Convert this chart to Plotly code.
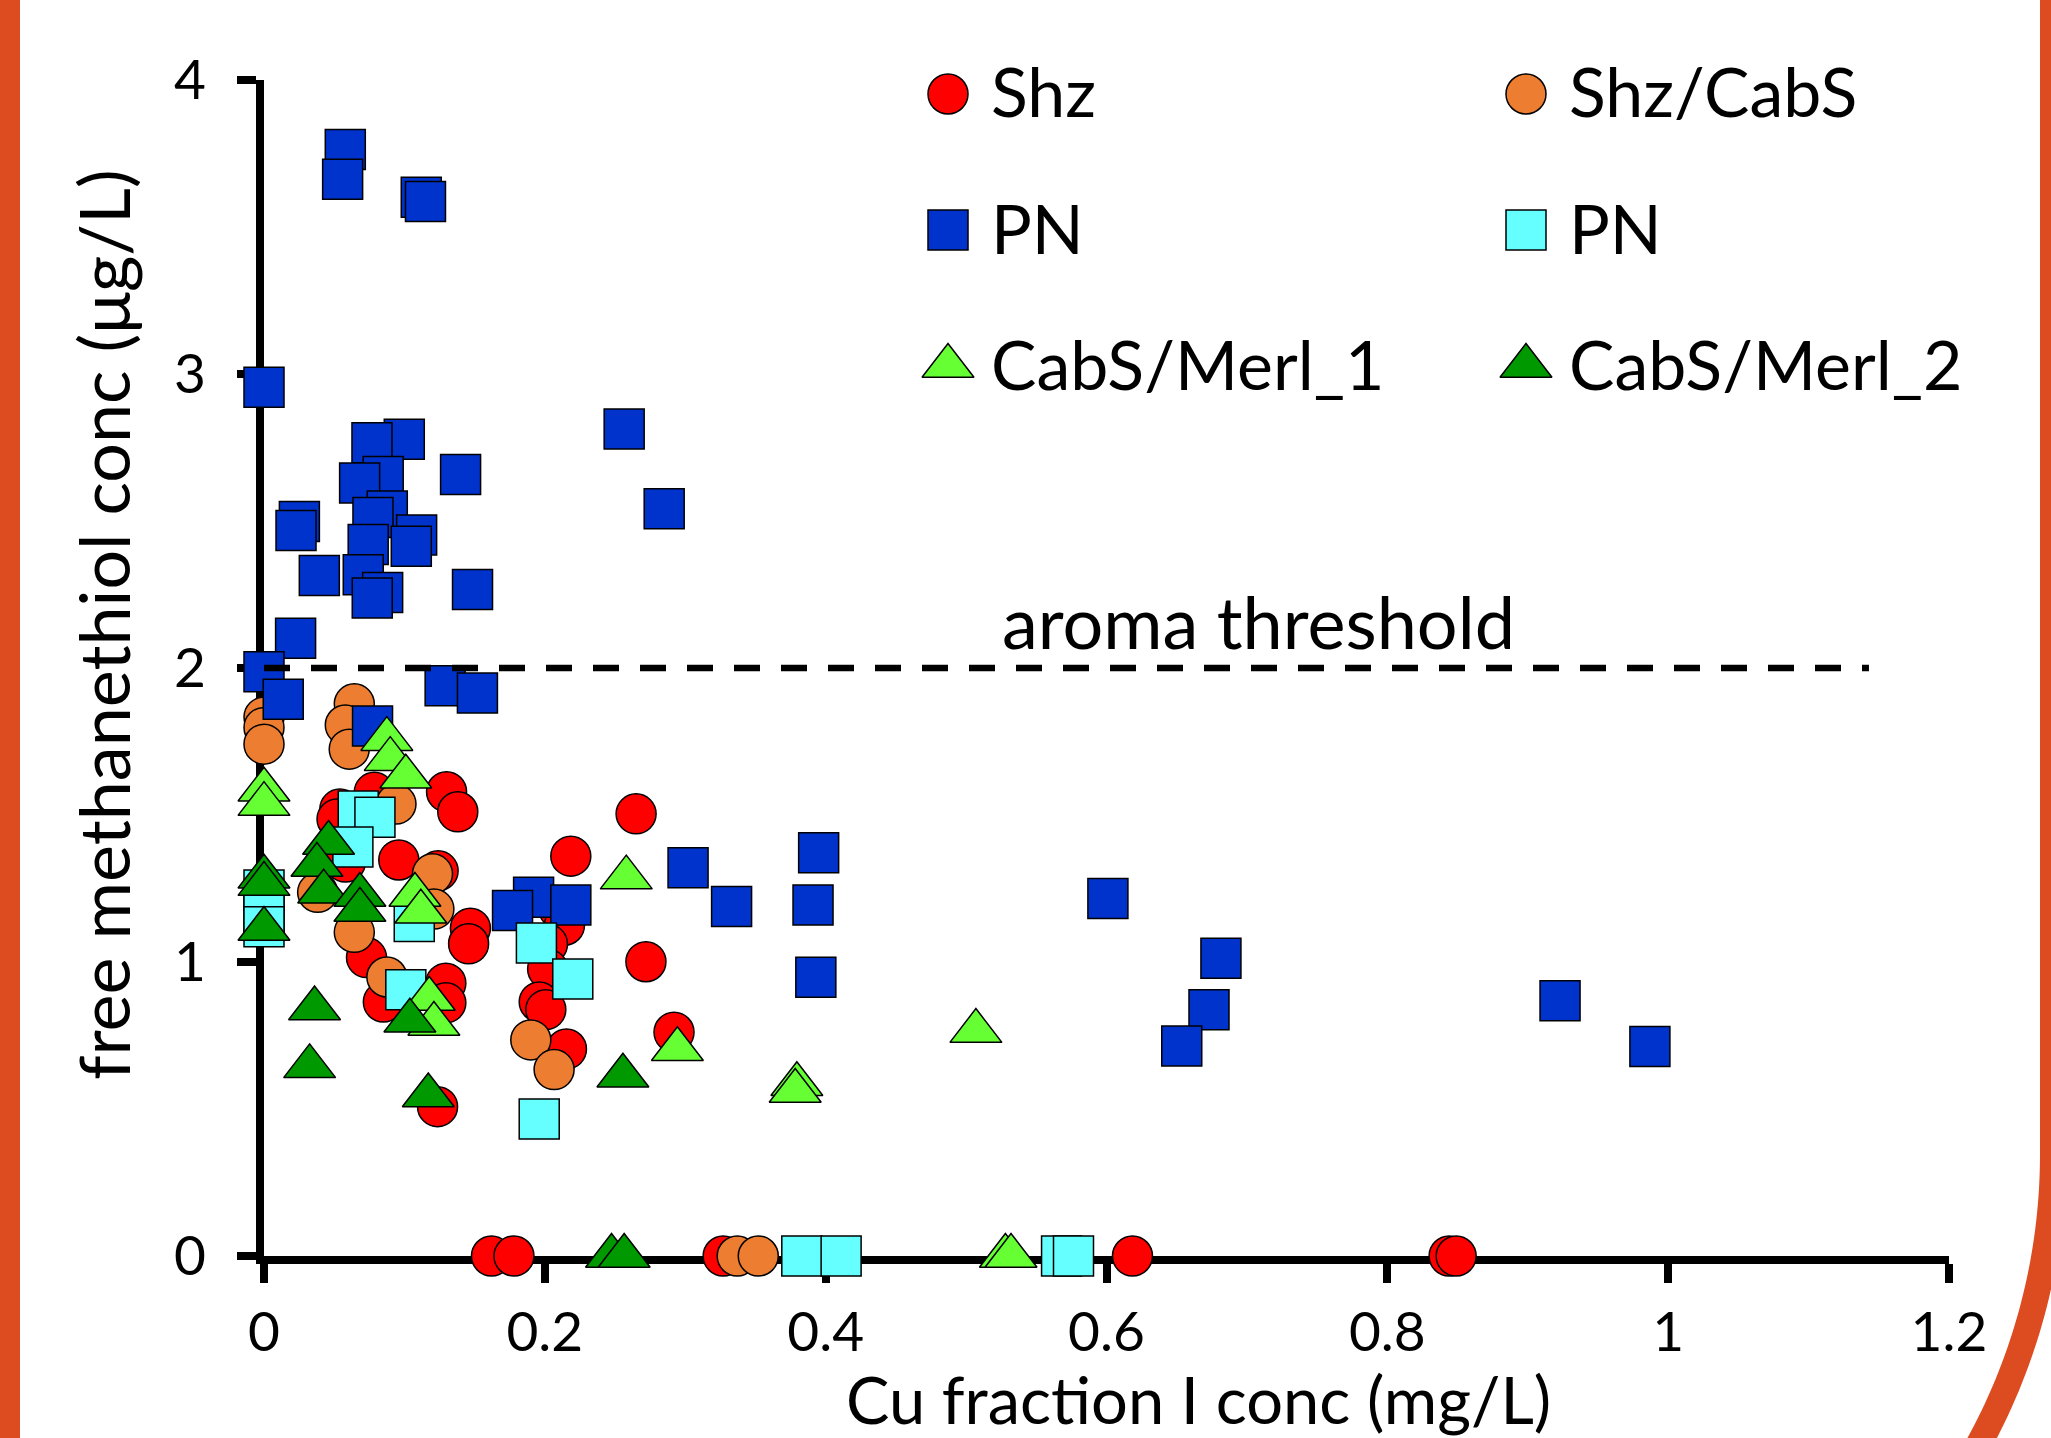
import numpy as np
import plotly.graph_objects as go

# ---------------- data ----------------
shz_x = [0.162, 0.178, 0.327, 0.6185, 0.844, 0.849, 0.130, 0.138, 0.265, 0.2185,
         0.096, 0.124, 0.0785, 0.054, 0.052, 0.058, 0.147, 0.1457, 0.272, 0.1295,
         0.1295, 0.073, 0.085, 0.21, 0.214, 0.2019, 0.202, 0.196, 0.2007, 0.2154,
         0.292, 0.1236]
shz_y = [0, 0, 0, 0, 0, 0, 1.579, 1.511, 1.504, 1.360,
         1.347, 1.31, 1.577, 1.52, 1.486, 1.34, 1.115, 1.062, 1.001, 0.928,
         0.861, 1.015, 0.864, 1.18, 1.125, 1.061, 0.976, 0.864, 0.838, 0.704,
         0.761, 0.508]

shzcabs_x = [0, 0, 0, 0.0643, 0.0579, 0.0607, 0.094, 0.12, 0.121, 0.0382,
             0.0643, 0.0875, 0.19, 0.2066, 0.337, 0.352]
shzcabs_y = [1.833, 1.798, 1.741, 1.878, 1.806, 1.724, 1.537, 1.30, 1.18, 1.237,
             1.101, 0.949, 0.735, 0.634, 0, 0]

pn1_x = [0.0579, 0.056, 0.112, 0.115, 0, 0.2565, 0.285, 0.0999, 0.0769, 0.140,
         0.0849, 0.0681, 0.0252, 0.0228, 0.0878, 0.0776, 0.1087, 0.1049, 0.0742, 0.0394,
         0.0707, 0.0845, 0.0771, 0.1485, 0.0225, 0, 0.0137, 0.129, 0.152, 0.0773,
         0.192, 0.177, 0.2185, 0.302, 0.333, 0.395, 0.391, 0.393, 0.601, 0.6815,
         0.673, 0.6536, 0.923, 0.987]
pn1_y = [3.764, 3.662, 3.601, 3.587, 2.955, 2.813, 2.542, 2.778, 2.766, 2.658,
         2.651, 2.629, 2.498, 2.468, 2.534, 2.512, 2.452, 2.414, 2.420, 2.315,
         2.317, 2.257, 2.238, 2.267, 2.101, 1.987, 1.894, 1.94, 1.915, 1.803,
         1.22, 1.175, 1.194, 1.321, 1.189, 1.372, 1.194, 0.948, 1.216, 1.0125,
         0.838, 0.714, 0.868, 0.713]

pn2_x = [0, 0, 0, 0.0671, 0.079, 0.0633, 0.107, 0.101, 0.194, 0.2199,
         0.196, 0.383, 0.411, 0.568, 0.5765]
pn2_y = [1.245, 1.17, 1.12, 1.514, 1.492, 1.391, 1.138, 0.906, 1.065, 0.942,
         0.466, 0, 0, 0, 0]

merl1_x = [0, 0, 0.0875, 0.0899, 0.101, 0.1075, 0.1117, 0.1177, 0.121, 0.258,
           0.2944, 0.3795, 0.3783, 0.507, 0.528, 0.532]
merl1_y = [1.586, 1.537, 1.758, 1.690, 1.630, 1.228, 1.171, 0.874, 0.789, 1.287,
           0.703, 0.584, 0.561, 0.765, 0, 0]

merl2_x = [0, 0, 0, 0.046, 0.0377, 0.0425, 0.0683, 0.0683, 0.036, 0.0325,
           0.1039, 0.117, 0.2556, 0.2475, 0.2565]
merl2_y = [1.29, 1.265, 1.112, 1.405, 1.330, 1.239, 1.228, 1.177, 0.842, 0.645,
           0.800, 0.546, 0.613, 0, 0]

series_names = ["Shz", "Shz/CabS", "PN", "PN", "CabS/Merl_1", "CabS/Merl_2"]

x_ticks = [0, 0.2, 0.4, 0.6, 0.8, 1.0, 1.2]
x_ticktext = ["0", "0.2", "0.4", "0.6", "0.8", "1", "1.2"]
y_ticks = [0, 1, 2, 3, 4]
y_ticktext = ["0", "1", "2", "3", "4"]

threshold_value = 2.0
threshold_end = 1.143
threshold_label = "aroma threshold"
x_title = "Cu fraction I conc (mg/L)"
y_title = "free methanethiol conc (μg/L)"

# ---------------- layout constants ----------------
W, H = 2051, 1438
ML, MR, MT, MB = 264, 102, 80, 182
PW = W - ML - MR
PH = H - MT - MB
FONT = "Lato"
FRAME = "#DD4B21"


def pxx(X):
    return (X - ML) / PW


def pxy(Y):
    return (H - MB - Y) / PH


styles = [
    ("circle", "#FF0000", 40),
    ("circle", "#ED7D31", 40),
    ("square", "#0033CC", 40),
    ("square", "#66FFFF", 40),
    ("triangle-up", "#66FF33", 45),
    ("triangle-up", "#009900", 45),
]
data = [(shz_x, shz_y), (shzcabs_x, shzcabs_y), (pn1_x, pn1_y),
        (pn2_x, pn2_y), (merl1_x, merl1_y), (merl2_x, merl2_y)]

fig = go.Figure()
for name, (xs, ys), (sym, col, sz) in zip(series_names, data, styles):
    fig.add_trace(go.Scatter(
        x=xs, y=ys, mode="markers", name=name, showlegend=False,
        cliponaxis=False,
        marker=dict(symbol=sym, color=col, size=sz,
                    line=dict(color="black", width=1.5)),
    ))

# ---- custom legend (2 columns x 3 rows), placed on a pixel overlay axis ----
LEG_COL_X = [948, 1526]
LEG_ROW_Y = [94, 230, 366]
for i, (name, (sym, col, sz)) in enumerate(zip(series_names, styles)):
    r, c = divmod(i, 2)
    fig.add_trace(go.Scatter(
        x=[LEG_COL_X[c]], y=[LEG_ROW_Y[r]], xaxis="x2", yaxis="y2",
        mode="markers", showlegend=False, hoverinfo="skip", cliponaxis=False,
        marker=dict(symbol=sym, color=col, size=sz,
                    line=dict(color="black", width=1.5)),
    ))
    fig.add_annotation(
        x=pxx(LEG_COL_X[c] + 41), y=pxy(LEG_ROW_Y[r] - 3),
        xref="paper", yref="paper", text=name, showarrow=False,
        xanchor="left", yanchor="middle",
        font=dict(family=FONT, size=68, color="black"),
    )

# ---- threshold line and label ----
fig.add_shape(type="line", xref="x", yref="y", x0=0, x1=threshold_end,
              y0=threshold_value, y1=threshold_value, layer="above",
              line=dict(color="black", width=6.5, dash="26px,21px"))
fig.add_annotation(x=pxx(1000), y=pxy(621), xref="paper", yref="paper",
                   text=threshold_label, showarrow=False,
                   xanchor="left", yanchor="middle",
                   font=dict(family=FONT, size=72, color="black"))

# ---- axis titles ----
fig.add_annotation(x=pxx(1198), y=pxy(1398.5), xref="paper", yref="paper",
                   text=x_title, showarrow=False, xanchor="center", yanchor="middle",
                   font=dict(family=FONT, size=65, color="black"))
fig.add_annotation(x=pxx(103), y=pxy(625), xref="paper", yref="paper",
                   text=y_title, showarrow=False, textangle=-90,
                   xanchor="center", yanchor="middle",
                   font=dict(family=FONT, size=70, color="black"))

# ---- slide frame decoration (orange) ----
fig.add_shape(type="rect", xref="paper", yref="paper",
              x0=pxx(-5), x1=pxx(20), y0=pxy(-20), y1=pxy(H + 20),
              fillcolor=FRAME, line=dict(width=0), layer="above")
cx, cy, R = 1448.0, 1154.0, 605.0
theta = np.linspace(0, np.arcsin((H + 30 - cy) / R), 40)
arc_X = [cx + R] + list(cx + R * np.cos(theta))
arc_Y = [-30] + list(cy + R * np.sin(theta))
path = "M " + " L ".join(f"{pxx(a):.5f},{pxy(b):.5f}" for a, b in zip(arc_X, arc_Y))
fig.add_shape(type="path", xref="paper", yref="paper", path=path,
              line=dict(color=FRAME, width=26), layer="above")

axis_common = dict(
    showline=True, linecolor="black", linewidth=8,
    ticks="outside", ticklen=19, tickwidth=8, tickcolor="black",
    showgrid=False, zeroline=False, layer="below traces",
    tickfont=dict(family=FONT, size=55, color="black"),
)
fig.update_layout(
    width=W, height=H,
    margin=dict(l=ML, r=MR, t=MT, b=MB, pad=0),
    paper_bgcolor="white", plot_bgcolor="white",
    showlegend=False,
    xaxis=dict(range=[0, 1.2], tickvals=x_ticks, ticktext=x_ticktext,
               ticklabelstandoff=2, **axis_common),
    yaxis=dict(range=[0, 4], tickvals=y_ticks, ticktext=y_ticktext,
               ticklabelstandoff=20, **axis_common),
    xaxis2=dict(range=[ML, W - MR], overlaying="x", visible=False, domain=[0, 1]),
    yaxis2=dict(range=[H - MB, MT], overlaying="y", visible=False, domain=[0, 1]),
)

fig.write_html("out.html", config={"displayModeBar": False},
               post_script="document.body.style.margin='0';")
